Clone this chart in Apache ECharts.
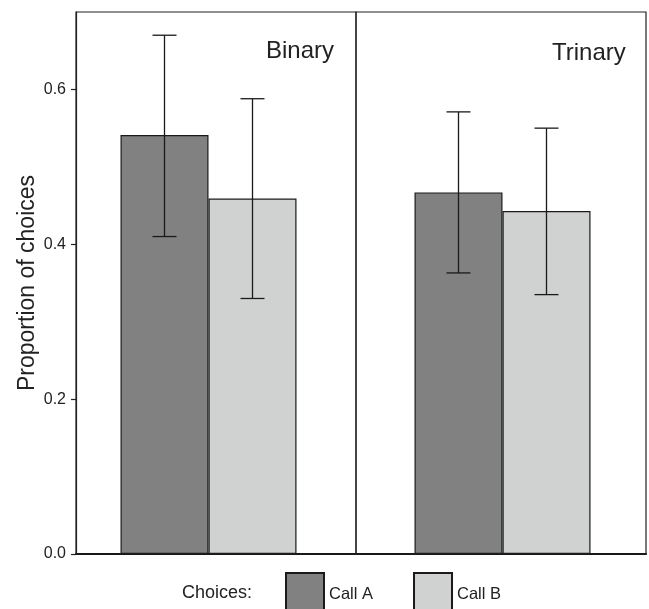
<!DOCTYPE html>
<html>
<head>
<meta charset="utf-8">
<script src="https://cdn.jsdelivr.net/npm/echarts@6/dist/echarts.min.js"></script>
<style>html,body{margin:0;padding:0;background:#fff}#c{width:649px;height:609px}</style>
</head>
<body>
<div id="c"></div>
<script>
const panels = ['Binary', 'Trinary'];
const seriesNames = ['Call A', 'Call B'];
const binaryMean = [0.541, 0.459];
const binaryLow = [0.410, 0.330];
const binaryHigh = [0.670, 0.588];
const trinaryMean = [0.467, 0.443];
const trinaryLow = [0.363, 0.335];
const trinaryHigh = [0.571, 0.550];
const yTicks = [0, 0.2, 0.4, 0.6];
const yMax = 0.7;

const colors = ['#818181', '#d0d2d1'];
const FONT = 'Liberation Sans, Arial, sans-serif';
const BAR_W = 88;

const chart = echarts.init(document.getElementById('c'));

const panelData = [
  {mean: binaryMean, low: binaryLow, high: binaryHigh},
  {mean: trinaryMean, low: trinaryLow, high: trinaryHigh}
];

const series = [];
seriesNames.forEach((name, si) => {
  panelData.forEach((pd, pi) => {
    series.push({
      name: name,
      type: 'bar',
      xAxisIndex: 2 + pi,
      yAxisIndex: 2 + pi,
      barWidth: BAR_W,
      barGap: '0%',
      itemStyle: {color: colors[si], borderColor: '#1a1a1a', borderWidth: 1.2},
      data: [pd.mean[si]],
      silent: true
    });
  });
});
panelData.forEach((pd, pi) => {
  series.push({
    name: 'err' + pi,
    type: 'custom',
    xAxisIndex: 2 + pi,
    yAxisIndex: 2 + pi,
    z: 10,
    data: seriesNames.map((n, si) => [0, pd.low[si], pd.high[si], si]),
    renderItem: function (params, api) {
      const si = api.value(3);
      const off = si === 0 ? -BAR_W / 2 : BAR_W / 2;
      const lo = api.coord([0, api.value(1)]);
      const hi = api.coord([0, api.value(2)]);
      const x = lo[0] + off;
      const cw = 12;
      const st = {stroke: '#1a1a1a', lineWidth: 1.3};
      return {
        type: 'group',
        children: [
          {type: 'line', shape: {x1: x, y1: lo[1], x2: x, y2: hi[1]}, style: st},
          {type: 'line', shape: {x1: x - cw, y1: lo[1], x2: x + cw, y2: lo[1]}, style: st},
          {type: 'line', shape: {x1: x - cw, y1: hi[1], x2: x + cw, y2: hi[1]}, style: st}
        ]
      };
    }
  });
});

const yBase = {type: 'value', min: 0, max: yMax};

chart.setOption({
  animation: false,
  textStyle: {fontFamily: FONT},
  grid: [
    {left: 76, top: 12, width: 280, height: 542, show: true, borderColor: '#222', borderWidth: 1.2, backgroundColor: 'transparent', z: 5},
    {left: 356, top: 12, width: 290, height: 542, show: true, borderColor: '#222', borderWidth: 1.2, backgroundColor: 'transparent', z: 5},
    {left: 76, top: 12, width: 265, height: 542},
    {left: 356, top: 12, width: 296, height: 542}
  ],
  xAxis: [
    {gridIndex: 0, type: 'category', data: [panels[0]], show: true, axisLine: {lineStyle: {color: '#111', width: 2}}, axisTick: {show: false}, axisLabel: {show: false}, splitLine: {show: false}},
    {gridIndex: 1, type: 'category', data: [panels[1]], show: true, axisLine: {lineStyle: {color: '#111', width: 2}}, axisTick: {show: false}, axisLabel: {show: false}, splitLine: {show: false}},
    {gridIndex: 2, type: 'category', data: [panels[0]], show: false},
    {gridIndex: 3, type: 'category', data: [panels[1]], show: false}
  ],
  yAxis: [
    Object.assign({}, yBase, {
      gridIndex: 0,
      name: 'Proportion of choices',
      nameLocation: 'middle',
      nameGap: 37,
      nameTextStyle: {fontSize: 23, color: '#222', fontFamily: FONT},
      axisLine: {show: true, lineStyle: {color: '#222', width: 1.2}},
      axisTick: {show: true, length: 5, lineStyle: {color: '#222', width: 1.2}, customValues: yTicks},
      axisLabel: {color: '#222', fontSize: 16, margin: 10, customValues: yTicks, formatter: v => v.toFixed(1)},
      splitLine: {show: false}
    }),
    Object.assign({}, yBase, {gridIndex: 1, show: false, splitLine: {show: false}}),
    Object.assign({}, yBase, {gridIndex: 2, show: false, splitLine: {show: false}}),
    Object.assign({}, yBase, {gridIndex: 3, show: false, splitLine: {show: false}})
  ],
  title: [
    {text: panels[0], left: 266, top: 39, padding: 0, textStyle: {fontSize: 24, fontWeight: 'normal', color: '#222', fontFamily: FONT}},
    {text: panels[1], left: 552, top: 41, padding: 0, textStyle: {fontSize: 24, fontWeight: 'normal', color: '#222', fontFamily: FONT}},
    {text: 'Choices:', left: 182, top: 584, padding: 0, textStyle: {fontSize: 18, fontWeight: 'normal', color: '#222', fontFamily: FONT}}
  ],
  legend: {
    data: seriesNames,
    left: 285,
    top: 572,
    padding: 0,
    icon: 'rect',
    itemWidth: 38,
    itemHeight: 42,
    itemGap: 40,
    selectedMode: false,
    textStyle: {fontSize: 16.5, color: '#222', fontFamily: FONT}
  },
  series: series
});
</script>
</body>
</html>
